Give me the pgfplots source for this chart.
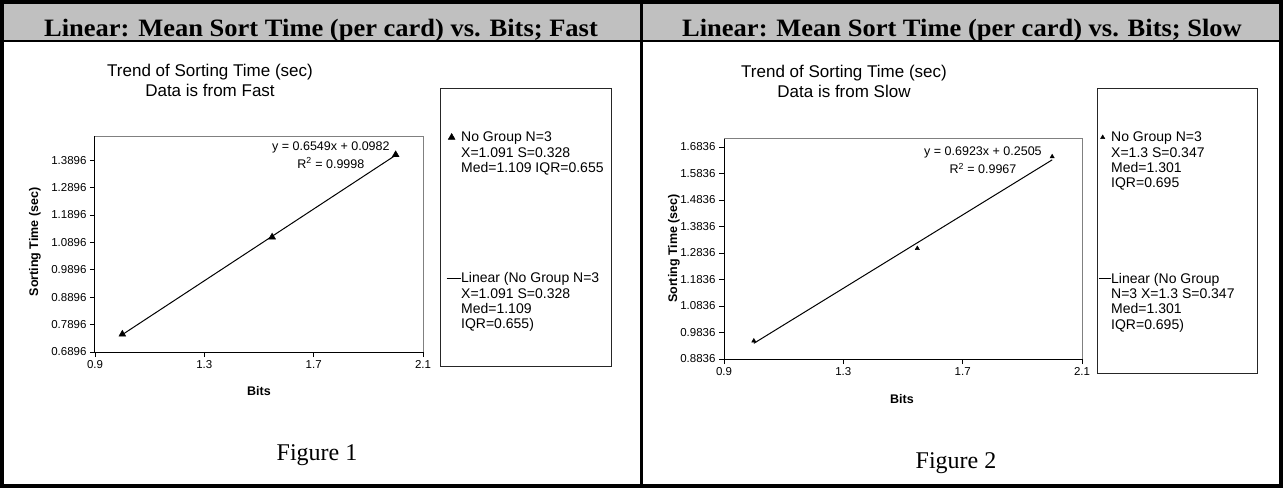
\documentclass[border=0pt]{standalone}
\usepackage{fontspec}
\setmainfont{Liberation Sans}
\newfontfamily\timesfont{Liberation Serif}
\usepackage{pgfplots}
\pgfplotsset{compat=1.18}
\definecolor{hdrgray}{RGB}{192,192,192}
\newcommand\ml[1]{\begin{tabular}[t]{@{}l@{}}#1\end{tabular}}
\pgfplotsset{
 excelax/.style={
  scale only axis, anchor=south west,
  axis x line*=bottom, axis y line*=left,
  axis line style={black, line width=1pt},
  tick align=outside, major tick length=5pt,
  tick style={black, line width=0.8pt},
  tick label style={font=\fontsize{11.5}{13}\selectfont},
  xtick={0.9,1.3,1.7,2.1}, xticklabels={0.9,1.3,1.7,2.1},
  xmin=0.9, xmax=2.1,
  label style={font=\bfseries\fontsize{12.5}{14}\selectfont},
  xlabel={Bits}, ylabel={Sorting Time (sec)},
  legend cell align=left,
  clip=false,
 },
 exlegend/.style={legend style={draw=none, fill=none, inner sep=0pt, anchor=north west,
   font=\fontsize{14}{15.3}\selectfont, cells={anchor=base west},
   nodes={inner sep=0pt, text depth=}, row sep=#1,
   /tikz/every even column/.append style={column sep=3pt}}},
 markleg/.style={legend image code/.code={\draw[##1] plot coordinates {(#1,4.5pt)};}},
 lineleg/.style={legend image code/.code={\draw[##1] (0pt,4.5pt) -- (#1,4.5pt);}},
}
\begin{document}
\begin{tikzpicture}
\path[use as bounding box] (0,0) rectangle (1283pt,-488pt);
\fill[hdrgray] (0,0) rectangle (1283pt,-40pt);
\draw[black, line width=2pt] (0,-40.5pt) -- (1283pt,-40.5pt);

\node[anchor=base, font=\timesfont\bfseries\fontsize{25}{27}\selectfont, xscale=1.06] at (321pt,-36pt) {Linear: Mean Sort Time (per card) vs. Bits; Fast};
\node[anchor=base, font=\timesfont\bfseries\fontsize{25}{27}\selectfont, xscale=1.06] at (962pt,-36pt) {Linear: Mean Sort Time (per card) vs. Bits; Slow};

\node[align=center, font=\fontsize{17}{20}\selectfont] at (210pt,-80pt) {Trend of Sorting Time (sec)\\Data is from Fast};
\node[align=center, font=\fontsize{17}{20}\selectfont] at (844pt,-81pt) {Trend of Sorting Time (sec)\\Data is from Slow};

% Left chart
\begin{axis}[excelax, at={(95pt,-352pt)}, width=328pt, height=216pt,
  ymin=0.6896, ymax=1.478,
  ytick={0.6896,0.7896,0.8896,0.9896,1.0896,1.1896,1.2896,1.3896},
  yticklabels={0.6896,0.7896,0.8896,0.9896,1.0896,1.1896,1.2896,1.3896},
  xlabel style={at={(axis description cs:0.5,-0.18)}, anchor=center},
  ylabel style={at={(axis description cs:-0.183,0.51)}, anchor=center},
  exlegend=95pt, legend style={at={(axis description cs:1.070,1.023)}},
]
\draw[gray, line width=0.8pt] (rel axis cs:0,1) -- (rel axis cs:1,1) -- (rel axis cs:1,0);
\addplot[only marks, mark=triangle*, mark size=4pt, black, markleg=5pt]
  coordinates {(1,0.7545) (1.548,1.109) (2,1.4095)};
\addlegendentry{\ml{No Group N=3\\X=1.091 S=0.328\\Med=1.109 IQR=0.655}}
\addplot[black, line width=1pt, mark=none, lineleg=14pt]
  coordinates {(1,0.7531) (2,1.4080)};
\addlegendentry{\ml{Linear (No Group N=3\\X=1.091 S=0.328\\Med=1.109\\IQR=0.655)}}
\node[align=center, font=\fontsize{12.5}{18}\selectfont] at (axis cs:1.763,1.4086) {y = 0.6549x + 0.0982\\R\textsuperscript{2} = 0.9998};
\end{axis}

% Right chart
\begin{axis}[excelax, at={(724pt,-359pt)}, width=358pt, height=221pt,
  ymin=0.8836, ymax=1.7176,
  ytick={0.8836,0.9836,1.0836,1.1836,1.2836,1.3836,1.4836,1.5836,1.6836},
  yticklabels={0.8836,0.9836,1.0836,1.1836,1.2836,1.3836,1.4836,1.5836,1.6836},
  xlabel style={at={(axis description cs:0.497,-0.181)}, anchor=center},
  ylabel style={at={(axis description cs:-0.14,0.5)}, anchor=center},
  exlegend=80pt, legend style={at={(axis description cs:1.0447,1.0317)}},
]
\draw[gray, line width=0.8pt] (rel axis cs:0,1) -- (rel axis cs:1,1) -- (rel axis cs:1,0);
\addplot[only marks, mark=triangle*, mark size=2.5pt, black, markleg=4pt]
  coordinates {(1,0.952) (1.548,1.301) (2,1.647)};
\addlegendentry{\ml{No Group N=3\\X=1.3 S=0.347\\Med=1.301\\IQR=0.695}}
\addplot[black, line width=1pt, mark=none, lineleg=12pt]
  coordinates {(1,0.9428) (2,1.6351)};
\addlegendentry{\ml{Linear (No Group\\N=3 X=1.3 S=0.347\\Med=1.301\\IQR=0.695)}}
\node[align=center, font=\fontsize{12.5}{18}\selectfont] at (axis cs:1.768,1.633) {y = 0.6923x + 0.2505\\R\textsuperscript{2} = 0.9967};
\end{axis}

\draw[black!85, line width=0.8pt] (440pt,-88pt) rectangle (611pt,-366pt);
\draw[black!85, line width=0.8pt] (1097pt,-88pt) rectangle (1257pt,-373pt);

\node[anchor=base, font=\timesfont\fontsize{24}{26}\selectfont] at (317pt,-460pt) {Figure 1};
\node[anchor=base, font=\timesfont\fontsize{24}{26}\selectfont] at (956pt,-468pt) {Figure 2};

\draw[black, line width=3pt] (641pt,0) -- (641pt,-488pt);
\draw[black, line width=4pt] (2pt,-2pt) rectangle (1281pt,-486pt);
\end{tikzpicture}
\end{document}
